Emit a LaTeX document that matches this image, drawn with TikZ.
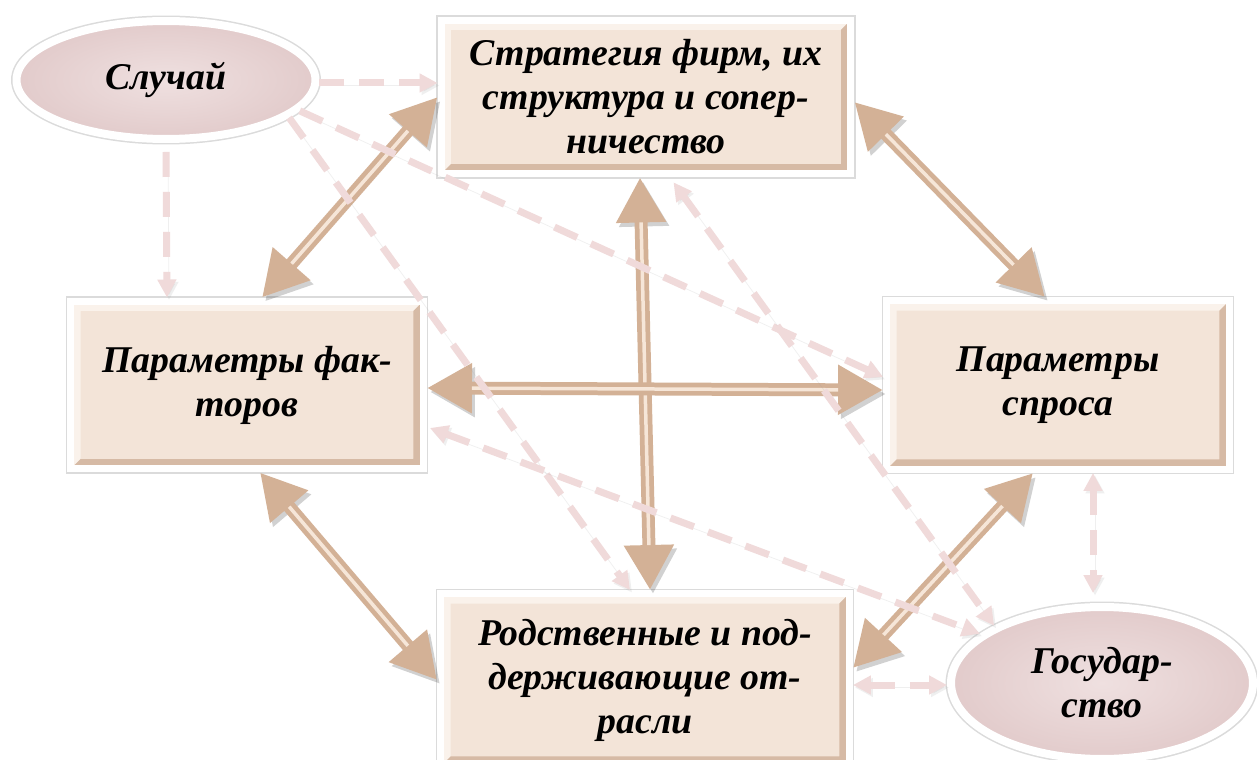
\documentclass[tikz,border=0pt]{standalone}
\usepackage{fontspec}
\setmainfont{Liberation Serif}
\usetikzlibrary{arrows.meta,shapes.geometric,shadows,calc}
\definecolor{boxfill}{HTML}{F3E4D8}
\definecolor{boxlight}{HTML}{FAF2EB}
\definecolor{boxdark}{HTML}{D6BAA5}
\definecolor{ovalin}{HTML}{EFE0E0}
\definecolor{ovalout}{HTML}{E2CBCB}
\definecolor{arrmain}{HTML}{D3B196}
\definecolor{arrlight}{HTML}{F6E6D8}
\definecolor{dashcol}{HTML}{F0DADA}
\newcommand{\ppbb}{path picture bounding box}
\tikzset{
  factor/.style={rectangle, fill=boxfill, draw=white, line width=0.14cm, inner sep=0pt,
    align=center, font=\fontsize{21.5}{25}\selectfont\bfseries\itshape,
    drop shadow={opacity=.2, shadow xshift=.04cm, shadow yshift=-.08cm, shadow scale=1.01},
    preaction={draw=black!14, line width=0.2cm},
    path picture={
      \fill[boxlight] (\ppbb.south west) -- (\ppbb.north west) -- (\ppbb.north east)
        -- ([shift={(-.2cm,-.2cm)}]\ppbb.north east) -- ([shift={(.2cm,-.2cm)}]\ppbb.north west)
        -- ([shift={(.2cm,.2cm)}]\ppbb.south west) -- cycle;
      \fill[boxdark] (\ppbb.south west) -- (\ppbb.south east) -- (\ppbb.north east)
        -- ([shift={(-.2cm,-.2cm)}]\ppbb.north east) -- ([shift={(-.2cm,.2cm)}]\ppbb.south east)
        -- ([shift={(.2cm,.2cm)}]\ppbb.south west) -- cycle;
      \fill[boxfill] ([shift={(.2cm,.2cm)}]\ppbb.south west) rectangle ([shift={(-.2cm,-.2cm)}]\ppbb.north east);
    }},
  chance/.style={ellipse, draw=white, line width=0.16cm, inner sep=0pt,
    inner color=ovalin, outer color=ovalout, align=center,
    font=\fontsize{21.5}{25}\selectfont\bfseries\itshape,
    drop shadow={opacity=.2, shadow xshift=.04cm, shadow yshift=-.08cm, shadow scale=1.01},
    preaction={draw=black!14, line width=0.22cm}},
  bigarrow/.style={draw=arrmain, line width=0.26cm,
    {Triangle[length=0.9cm,width=0.94cm]}-{Triangle[length=0.9cm,width=0.94cm]},
    preaction={draw=black, opacity=.18, transform canvas={shift={(.06cm,-.08cm)}}},
    postaction={draw=arrlight, line width=0.07cm, -, shorten <=0.9cm, shorten >=0.9cm}},
  dashline/.style={draw=dashcol, line width=0.14cm, dash pattern=on 0.5cm off 0.3cm,
    >={Triangle[length=0.36cm,width=0.36cm]},
    preaction={draw=black!40, opacity=.15, transform canvas={shift={(.04cm,-.05cm)}}}}
}

\begin{document}
\begin{tikzpicture}[x=0.02cm, y=-0.02cm]
\useasboundingbox[fill=white] (0,0) rectangle (1257,760);

\node[factor, minimum width=8.2cm, minimum height=3.08cm] (strat) at (646,97)
  {Стратегия фирм, их\\структура и сопер-\\ничество};
\node[factor, minimum width=7.06cm, minimum height=3.36cm] (fact) at (247,385)
  {Параметры фак-\\торов};
\node[factor, minimum width=6.86cm, minimum height=3.38cm] (dem) at (1058,385)
  {Параметры\\спроса};
\node[factor, minimum width=8.18cm, minimum height=3.46cm] (rel) at (645,680)
  {Родственные и под-\\держивающие от-\\расли};
\node[chance, minimum width=5.98cm, minimum height=2.36cm] (case) at (166,80)
  {Случай};
\node[chance, minimum width=6.04cm, minimum height=3.04cm] (gov) at (1102,683)
  {Государ-\\ство};

\draw[bigarrow] (strat.west) -- ($(fact.north)+(15,0)$);
\draw[bigarrow] ($(strat.east)+(0,5)$) -- ($(dem.north)+(-13,0)$);
\draw[bigarrow] ($(fact.south)+(13,0)$) -- (rel.west);
\draw[bigarrow] ($(dem.south)+(-25,0)$) -- ($(rel.east)+(0,-12)$);
\draw[bigarrow] ($(strat.south)+(-6,0)$) -- ($(rel.north)+(5,0)$);
\draw[bigarrow] ($(fact.east)+(0,3)$) -- ($(dem.west)+(0,5)$);

\draw[dashline,->] ($(case.east)+(0,3)$) -- ($(strat.west)+(0,-14)$);
\draw[dashline,->,shorten <=0.18cm] (case.south) -- ($(fact.north)+(-80,0)$);
\draw[dashline,->] (case.-13) -- ($(dem.west)+(0,-8)$);
\draw[dashline,->] (case.-17) -- ($(rel.north)+(-15,0)$);
\draw[dashline,<->,shorten <=0.12cm] ($(strat.south)+(24,0)$) -- (gov.152);
\draw[dashline,<->] ($(fact.east)+(3,43)$) -- (gov.158);
\draw[dashline,<->,shorten >=0.2cm] ($(dem.south)+(35,0)$) -- ($(gov.north)+(-9,0)$);
\draw[dashline,<->] ($(rel.east)+(0,5)$) -- ($(gov.west)+(0,2)$);
\end{tikzpicture}
\end{document}
